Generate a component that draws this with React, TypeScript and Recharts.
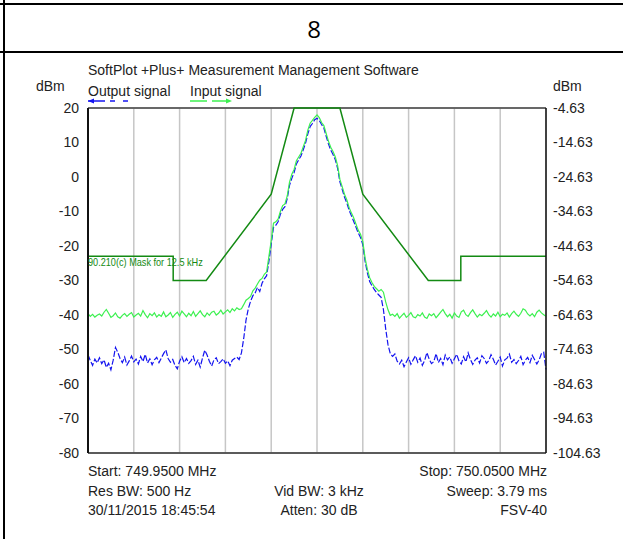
import { CartesianGrid, Line, LineChart, ReferenceLine, XAxis, YAxis } from "recharts";

// Spektrumplot 749.95 – 750.05 MHz, Frequenz als Offset in kHz zur Mittenfrequenz.

const F_START = -50;
const F_STEP = 0.5;

// Eingangssignal (grün), 201 Punkte
const INPUT_DBM = [
  -39.6, -40.4, -39.8, -40.6, -40.1, -39.7, -40.3, -39.2, -38.4, -39.5, -40.7, -40.2, -39.4, -40.5, -40.9, -40.1, -39.6, -40.4, -39.8, -39.3,
  -40.6, -40.0, -39.5, -40.3, -38.7, -39.9, -40.8, -39.6, -40.2, -39.4, -40.6, -39.9, -40.4, -39.1, -40.5, -40.0, -39.3, -40.7, -39.8, -39.2,
  -40.3, -38.9, -39.7, -40.5, -39.5, -40.2, -39.0, -40.4, -39.6, -38.8, -39.9, -40.5, -39.4, -40.1, -39.2, -38.9, -40.0, -39.5, -38.6, -39.7,
  -39.1, -38.5, -39.3, -38.2, -38.8, -37.9, -38.4,
  -38.2, -37.0, -35.7, -35.2, -34.6, -33.0, -32.2, -31.0, -29.9, -29.4, -28.2, -27.5, -23.0, -18.5, -13.4, -13.0, -12.2, -10.0, -8.3, -7.8,
  -5.5, -1.5, 0.8, 2.2, 4.7, 5.8, 6.9, 8.8, 10.6, 13.6, 15.6, 16.4, 17.3, 18.0, 17.2, 15.8, 14.9, 12.6, 10.4, 8.6,
  7.4, 5.8, 3.3, -0.7, -2.8, -5.0, -6.6, -8.8, -10.4, -11.8, -13.6, -15.4, -16.6, -18.7, -23.5, -26.8, -29.2, -30.6, -31.7, -32.4,
  -33.1, -32.6, -33.4, -36.2, -38.5, -40.1,
  -39.8, -40.4, -39.6, -40.9, -40.2, -39.5, -40.7, -40.1, -39.3, -40.5, -40.8, -39.9, -40.3, -39.4, -40.6, -41.0, -39.7, -40.2, -39.6, -40.8,
  -40.0, -39.2, -38.4, -39.6, -40.5, -39.8, -40.9, -39.4, -40.3, -40.7, -39.1, -38.6, -39.9, -40.4, -39.3, -38.5, -39.6, -40.6, -39.8, -40.2,
  -39.5, -38.7, -39.9, -40.6, -39.7, -40.3, -39.2, -40.5, -39.8, -40.1, -39.4, -40.6, -39.6, -38.9, -39.8, -40.4, -39.5, -38.2, -38.6, -39.7,
  -40.3, -39.6, -40.5, -39.2, -38.6, -39.4, -39.9, -40.4,
];

// Ausgangssignal (blau), 201 Punkte
const OUTPUT_DBM = [
  -51.5, -53.2, -54.6, -52.8, -53.9, -52.4, -54.1, -53.0, -55.2, -54.0, -55.9, -53.1, -49.4, -50.8, -52.6, -53.8, -52.2, -54.5, -53.3, -51.9,
  -53.6, -52.8, -54.2, -52.0, -53.5, -51.4, -53.9, -52.7, -54.4, -53.0, -52.3, -53.8, -52.5, -51.2, -50.1, -52.6, -53.7, -52.9, -54.6, -55.6,
  -53.4, -52.1, -53.8, -52.6, -54.0, -53.2, -52.0, -54.3, -53.1, -55.1, -52.5, -50.2, -51.6, -53.4, -54.8, -53.0, -52.4, -54.1, -53.5, -52.7,
  -54.0, -53.3, -54.7, -53.1, -52.6, -52.2, -52.9,
  -51.0, -46.8, -41.5, -38.2, -36.0, -34.4, -33.6, -32.0, -33.2, -30.8, -29.5, -28.6, -24.5, -19.5, -14.6, -14.0, -13.0, -10.8, -9.4, -8.6,
  -6.3, -2.4, -0.4, 1.3, 3.8, 5.0, 6.1, 7.9, 9.8, 12.5, 14.6, 15.5, 16.6, 17.0, 16.4, 15.2, 14.2, 11.8, 9.6, 7.8,
  6.5, 5.0, 2.5, -1.4, -3.6, -5.8, -7.5, -9.6, -11.2, -12.8, -14.5, -16.2, -17.5, -19.6, -24.4, -27.8, -30.3, -31.5, -32.6, -33.5,
  -34.2, -34.9, -38.4, -44.0, -48.6, -51.2,
  -52.0, -51.3, -53.4, -54.2, -53.1, -55.0, -53.6, -52.4, -54.3, -53.0, -51.8, -53.7, -52.5, -54.6, -53.2, -50.9, -52.8, -54.1, -53.5, -51.2,
  -53.8, -52.6, -54.4, -51.6, -53.0, -52.2, -54.0, -52.7, -51.4, -53.3, -54.2, -52.1, -53.6, -51.0, -52.9, -54.3, -53.1, -52.4, -53.9, -51.8,
  -52.6, -54.0, -53.2, -51.5, -52.8, -54.5, -53.4, -52.2, -54.8, -53.0, -52.5, -51.3, -53.7, -52.9, -54.1, -53.2, -52.0, -54.4, -53.1, -52.3,
  -53.8, -51.7, -52.9, -54.2, -53.0, -51.2, -50.8, -55.8,
];

// Maske 90.210(c) für 12,5 kHz
const MASK_KHZ = [-50, -31.4, -31.4, -24.2, -10, -5, 5, 10, 24.3, 31.4, 31.4, 50];
const MASK_DBM = [-23, -23, -30, -30, -5, 20, 20, -5, -30, -30, -23, -23];

const X_TICKS = [-50, -40, -30, -20, -10, 0, 10, 20, 30, 40, 50];
const LEFT_TICKS = [-80, -70, -60, -50, -40, -30, -20, -10, 0, 10, 20];
const RIGHT_TICKS = [-104.63, -94.63, -84.63, -74.63, -64.63, -54.63, -44.63, -34.63, -24.63, -14.63, -4.63];

const INFO_LEFT = ["Start: 749.9500 MHz", "Res BW: 500 Hz", "30/11/2015 18:45:54"];
const INFO_MID = ["", "Vid BW: 3 kHz", "Atten: 30 dB"];
const INFO_RIGHT = ["Stop: 750.0500 MHz", "Sweep: 3.79 ms", "FSV-40"];
const INFO_ROWS_Y = [471, 491, 510];

const FONT = "'Liberation Sans', Arial, sans-serif";
const TEXT = "#222";
const BLUE = "#1414f0";
const GREEN = "#3cf050";
const MASK_GREEN = "#138a13";

const data = INPUT_DBM.map((v, i) => ({
  f: F_START + i * F_STEP,
  inp: v,
  out: OUTPUT_DBM[i],
}));

const mask = MASK_KHZ.map((f, i) => ({ f, mask: MASK_DBM[i] }));

function Txt({
  x,
  y,
  children,
  anchor = "start",
  size = 14,
  color = TEXT,
}: {
  x: number;
  y: number;
  children: React.ReactNode;
  anchor?: "start" | "middle" | "end";
  size?: number;
  color?: string;
}) {
  const base: React.CSSProperties = {
    position: "absolute",
    top: y - 10,
    lineHeight: "20px",
    fontSize: size,
    fontFamily: FONT,
    color,
    whiteSpace: "nowrap",
  };
  if (anchor === "start") return <div style={{ ...base, left: x }}>{children}</div>;
  if (anchor === "end") return <div style={{ ...base, right: 623 - x }}>{children}</div>;
  return <div style={{ ...base, left: x - 120, width: 240, textAlign: "center" }}>{children}</div>;
}

export default function App() {
  return (
    <div style={{ position: "absolute", left: 0, top: 0, width: 623, height: 539, background: "#fff", overflow: "hidden" }}>
      {/* Tabellenrahmen */}
      <div style={{ position: "absolute", left: 0, top: 3, width: 623, height: 2, background: "#000" }} />
      <div style={{ position: "absolute", left: 0, top: 51, width: 623, height: 2, background: "#000" }} />
      <div style={{ position: "absolute", left: 3, top: 0, width: 2, height: 539, background: "#000" }} />
      <div
        style={{
          position: "absolute",
          left: 5,
          top: 12,
          width: 618,
          textAlign: "center",
          fontFamily: "'Open Sans', 'Noto Sans', sans-serif",
          fontSize: 24,
          lineHeight: "34px",
          color: "#000",
        }}
      >
        8
      </div>

      <LineChart
        width={623}
        height={539}
        data={data}
        margin={{ top: 108, right: 17, bottom: 86, left: 48 }}
        style={{ position: "absolute", left: 0, top: 0 }}
      >
        <CartesianGrid stroke="#c6c6c6" strokeWidth={1.5} />
        <XAxis dataKey="f" type="number" domain={[-50, 50]} ticks={X_TICKS} hide />
        <YAxis
          yAxisId="l"
          domain={[-80, 20]}
          ticks={LEFT_TICKS}
          width={40}
          tickLine={false}
          tickSize={7}
          tickMargin={2}
          axisLine={{ stroke: "#111", strokeWidth: 2 }}
          tick={{ fontSize: 14, fill: TEXT, fontFamily: FONT }}
        />
        <YAxis
          yAxisId="r"
          orientation="right"
          domain={[-104.63, -4.63]}
          ticks={RIGHT_TICKS}
          allowDataOverflow
          width={60}
          tickLine={false}
          tickSize={5}
          tickMargin={2}
          tickFormatter={(v: number) => v.toFixed(2)}
          axisLine={{ stroke: "#111", strokeWidth: 1.5 }}
          tick={{ fontSize: 14, fill: TEXT, fontFamily: FONT }}
        />
        <ReferenceLine yAxisId="l" y={20} stroke="#444" strokeWidth={1.5} />
        <ReferenceLine yAxisId="l" y={-80} stroke="#333" strokeWidth={1.5} />
        <Line
          yAxisId="l"
          dataKey="out"
          stroke={BLUE}
          strokeWidth={1.2}
          strokeDasharray="6 2"
          dot={false}
          isAnimationActive={false}
        />
        <Line yAxisId="l" dataKey="inp" stroke={GREEN} strokeWidth={1.2} dot={false} isAnimationActive={false} />
        {/* rechte Skala (Referenzpegel -4.63 dBm) braucht eine zugeordnete Reihe */}
        <Line
          yAxisId="r"
          dataKey="out"
          stroke="none"
          dot={false}
          activeDot={false}
          legendType="none"
          isAnimationActive={false}
        />
        <Line
          yAxisId="l"
          data={mask}
          dataKey="mask"
          stroke={MASK_GREEN}
          strokeWidth={1.5}
          dot={false}
          isAnimationActive={false}
        />
      </LineChart>

      {/* Kopfzeilen */}
      <Txt x={88} y={70}>SoftPlot +Plus+ Measurement Management Software</Txt>
      <Txt x={36} y={86}>dBm</Txt>
      <Txt x={553} y={86}>dBm</Txt>
      <Txt x={88} y={91}>Output signal</Txt>
      <Txt x={190} y={91}>Input signal</Txt>
      <svg width={623} height={12} style={{ position: "absolute", left: 0, top: 95 }}>
        <path d="M88 6 L94 3.5 L94 8.5 Z" fill={BLUE} />
        <line x1={88} y1={6} x2={105} y2={6} stroke={BLUE} strokeWidth={1.5} />
        <line x1={110} y1={6} x2={115} y2={6} stroke={BLUE} strokeWidth={1.5} />
        <line x1={123} y1={6} x2={128} y2={6} stroke={BLUE} strokeWidth={1.5} />
        <line x1={190} y1={6} x2={207} y2={6} stroke={GREEN} strokeWidth={1.5} />
        <line x1={212} y1={6} x2={228} y2={6} stroke={GREEN} strokeWidth={1.5} />
        <path d="M232 6 L226 3.5 L226 8.5 Z" fill={GREEN} />
      </svg>

      {/* Maskenbeschriftung */}
      <div
        style={{
          position: "absolute",
          left: 88,
          top: 256,
          fontFamily: FONT,
          fontSize: 10.5,
          lineHeight: "13px",
          color: MASK_GREEN,
          whiteSpace: "nowrap",
          transform: "scaleX(0.87)",
          transformOrigin: "left",
        }}
      >
        90.210(c) Mask for 12.5 kHz
      </div>

      {/* Geräteeinstellungen */}
      {INFO_ROWS_Y.map((y, r) => (
        <div key={r}>
          <Txt x={88} y={y}>{INFO_LEFT[r]}</Txt>
          {INFO_MID[r] && (
            <Txt x={319} y={y} anchor="middle">
              {INFO_MID[r]}
            </Txt>
          )}
          <Txt x={547} y={y} anchor="end">
            {INFO_RIGHT[r]}
          </Txt>
        </div>
      ))}
    </div>
  );
}
